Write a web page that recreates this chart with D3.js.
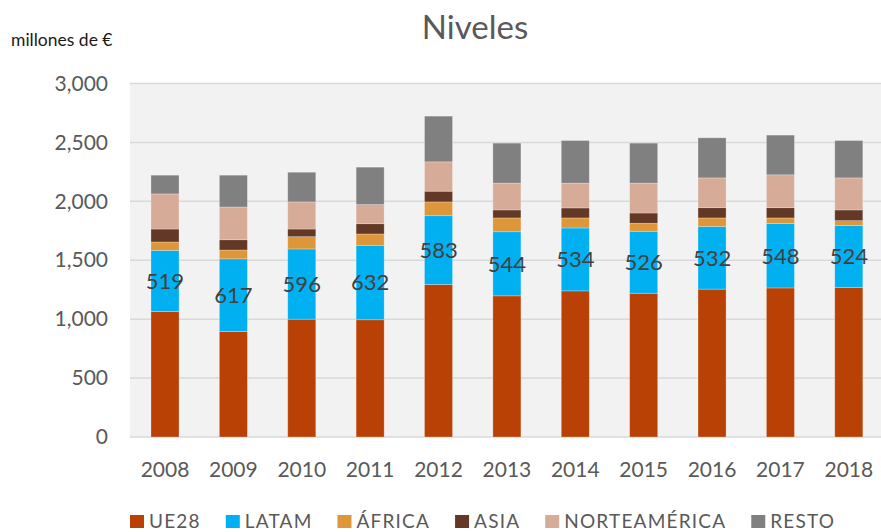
<!DOCTYPE html>
<html>
<head>
<meta charset="utf-8">
<script src="https://cdn.jsdelivr.net/npm/d3@7"></script>
<style>
  body { margin: 0; background: #fff; }
  text { font-family: Lato, "Open Sans", sans-serif; }
</style>
</head>
<body>
<div id="chart"></div>
<script>
var width = 881,
    height = 532;

// data (millones de €)
var years = ["2008", "2009", "2010", "2011", "2012", "2013", "2014", "2015", "2016", "2017", "2018"];
var ue28 = [1065, 895, 1000, 995, 1295, 1198, 1240, 1220, 1255, 1265, 1270];
var latam = [519, 617, 596, 632, 583, 544, 534, 526, 532, 548, 524];
var africa = [71, 75, 104, 96, 117, 117, 85, 68, 72, 46, 42];
var asia = [110, 87, 65, 87, 91, 68, 85, 87, 87, 87, 91];
var norteamerica = [298, 278, 230, 162, 249, 227, 210, 253, 253, 279, 272];
var resto = [159, 270, 252, 318, 388, 340, 362, 340, 340, 337, 317];

var seriesNames = ["UE28", "LATAM", "ÁFRICA", "ASIA", "NORTEAMÉRICA", "RESTO"];
var seriesValues = [ue28, latam, africa, asia, norteamerica, resto];
var colors = ["#b94105", "#00b0f0", "#dd963a", "#633826", "#d6ab98", "#808080"];
var yTicks = [0, 500, 1000, 1500, 2000, 2500, 3000];

// table for d3.stack
var table = years.map(function(y, i) {
  var row = { year: y };
  seriesNames.forEach(function(s, j) { row[s] = seriesValues[j][i]; });
  return row;
});

var plot = { left: 130, right: 881, top: 83.5, bottom: 437 };

var x = d3.scaleBand()
    .domain(years)
    .range([130.8, 883])
    .paddingInner(0.59)
    .paddingOuter(0.295);

var y = d3.scaleLinear()
    .domain([0, 3000])
    .range([plot.bottom, plot.top]);

var color = d3.scaleOrdinal().domain(seriesNames).range(colors);

var svg = d3.select("#chart").append("svg")
    .attr("width", width)
    .attr("height", height);

// plot area background
svg.append("rect")
    .attr("x", plot.left)
    .attr("y", plot.top)
    .attr("width", plot.right - plot.left)
    .attr("height", plot.bottom - plot.top)
    .attr("fill", "#f2f2f2");

// gridlines
svg.append("g")
  .selectAll("line")
    .data(yTicks)
  .enter().append("line")
    .attr("x1", plot.left)
    .attr("x2", plot.right)
    .attr("y1", function(d) { return y(d); })
    .attr("y2", function(d) { return y(d); })
    .attr("stroke", "#d9d9d9")
    .attr("stroke-width", 1.5);

// y axis labels
var yAxis = d3.axisLeft(y)
    .tickValues(yTicks)
    .tickFormat(d3.format(","))
    .tickSize(0)
    .tickPadding(22);

svg.append("g")
    .attr("transform", "translate(" + plot.left + ",0)")
    .call(yAxis)
    .call(function(g) { g.select(".domain").remove(); })
    .selectAll("text")
    .attr("font-size", 21)
    .attr("font-family", "Lato, sans-serif")
    .attr("fill", "#595959");

// x axis labels
var xAxis = d3.axisBottom(x).tickSize(0).tickPadding(25);
svg.append("g")
    .attr("transform", "translate(0," + plot.bottom + ")")
    .call(xAxis)
    .call(function(g) { g.select(".domain").remove(); })
    .selectAll("text")
    .attr("font-size", 21)
    .attr("font-family", "Lato, sans-serif")
    .attr("fill", "#595959");

// stacked bars
var stacked = d3.stack().keys(seriesNames)(table);

svg.append("g")
  .selectAll("g")
    .data(stacked)
  .enter().append("g")
    .attr("fill", function(d) { return color(d.key); })
  .selectAll("rect")
    .data(function(d) { return d; })
  .enter().append("rect")
    .attr("x", function(d) { return x(d.data.year); })
    .attr("y", function(d) { return y(d[1]); })
    .attr("height", function(d) { return y(d[0]) - y(d[1]); })
    .attr("width", x.bandwidth())
    .attr("stroke", "rgba(255,255,255,0.35)")
    .attr("stroke-width", 0.75);

// LATAM value labels
svg.append("g")
  .selectAll("text")
    .data(stacked[1])
  .enter().append("text")
    .attr("x", function(d) { return x(d.data.year) + x.bandwidth() / 2; })
    .attr("y", function(d) { return (y(d[0]) + y(d[1])) / 2; })
    .attr("dy", "0.36em")
    .attr("text-anchor", "middle")
    .attr("font-size", 22)
    .attr("fill", "#404040")
    .text(function(d) { return d.data.LATAM; });

// title
svg.append("text")
    .attr("x", 475)
    .attr("y", 39)
    .attr("text-anchor", "middle")
    .attr("font-size", 33)
    .attr("fill", "#595959")
    .text("Niveles");

svg.append("text")
    .attr("x", 11)
    .attr("y", 46)
    .attr("font-size", 17.5)
    .attr("fill", "#1a1a1a")
    .text("millones de €");

// legend
var legend = svg.append("g").attr("transform", "translate(130,0)");
var lx = 0;
seriesNames.forEach(function(s) {
  var item = legend.append("g").attr("transform", "translate(" + lx + ",0)");
  item.append("rect")
      .attr("x", 0)
      .attr("y", 515)
      .attr("width", 14)
      .attr("height", 13)
      .attr("fill", color(s));
  var t = item.append("text")
      .attr("x", 19)
      .attr("y", 528)
      .attr("font-size", 19)
      .attr("letter-spacing", 1.2)
      .attr("fill", "#595959")
      .text(s);
  lx += 19 + t.node().getComputedTextLength() + 25;
});
</script>
</body>
</html>
